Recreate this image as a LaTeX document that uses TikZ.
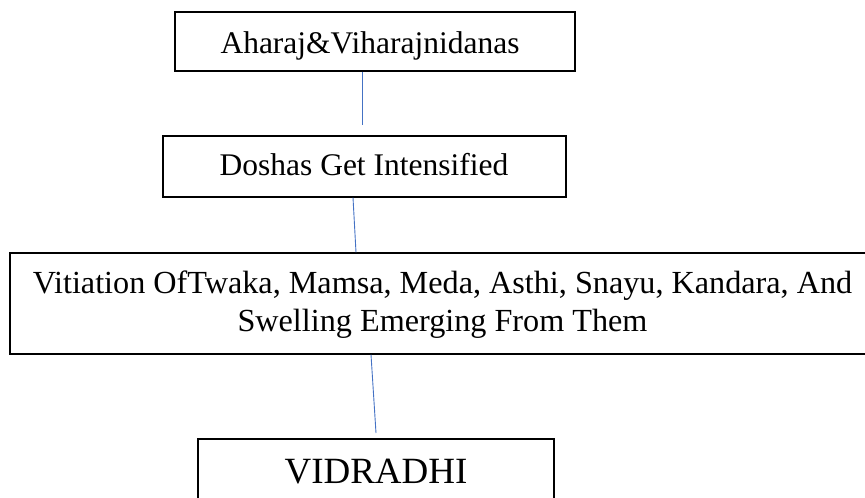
\documentclass[tikz,border=0pt]{standalone}
\usepackage{fontspec}
\setmainfont{Liberation Serif}
\definecolor{connblue}{RGB}{68,114,196}
\begin{document}
\begin{tikzpicture}[x=1pt,y=-1pt,
  box/.style={draw=black, line width=1.3pt, rectangle, inner sep=0pt},
  conn/.style={draw=connblue, line width=0.9pt},
  lbl/.style={anchor=base, inner sep=0pt, font=\fontsize{31.5}{37.5}\selectfont},
  widelbl/.style={anchor=base, inner sep=0pt, font=\fontsize{32.2}{38}\selectfont},
  biglbl/.style={anchor=base, inner sep=0pt, font=\fontsize{37}{44}\selectfont}]
\useasboundingbox (0,0) rectangle (865,498);
\clip (0,0) rectangle (865,498);
% boxes
\node[box, minimum width=400pt, minimum height=59pt] (b1) at (375,41.5) {};
\node[box, minimum width=403pt, minimum height=61pt] (b2) at (364.5,166.5) {};
\node[box, minimum width=865pt, minimum height=101pt] (b3) at (442.5,303.5) {};
\node[box, minimum width=356pt, minimum height=66pt] (b4) at (376,472) {};
% texts
\node[lbl] (t1) at (370,53) {Aharaj\&Viharajnidanas};
\node[lbl] (t2) at (364,175) {Doshas Get Intensified};
\node[widelbl] (t3a) at (442.5,293) {Vitiation OfTwaka, Mamsa, Meda, Asthi, Snayu, Kandara, And};
\node[widelbl] (t3b) at (442.5,331) {Swelling Emerging From Them};
\node[biglbl] (t4) at (376,483) {VIDRADHI};
% connector end points
\coordinate (c1) at (362,125);
\coordinate (c2a) at (353,0);
\coordinate (c2b) at (356,0);
\coordinate (c3a) at (371,0);
\coordinate (c3b) at (376,433);
% connectors
\draw[conn] (b1.south -| c1) -- (c1);
\draw[conn] (b2.south -| c2a) -- (b3.north -| c2b);
\draw[conn] (b3.south -| c3a) -- (c3b);
\end{tikzpicture}
\end{document}
